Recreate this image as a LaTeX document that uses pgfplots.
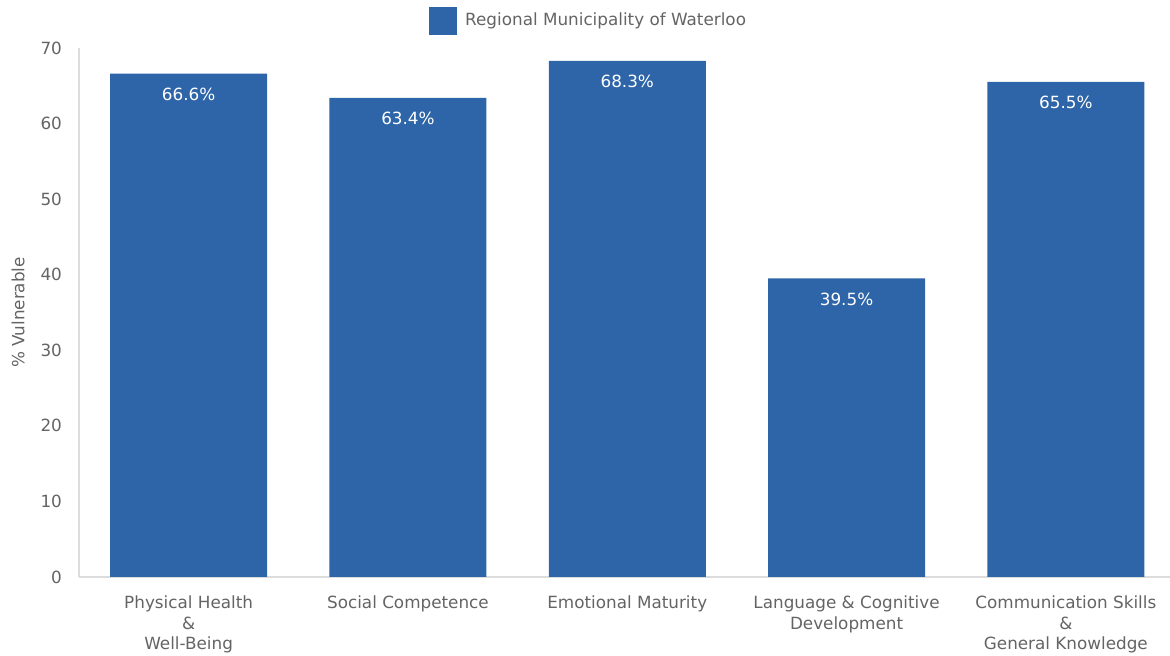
\documentclass[border=0pt]{standalone}
\usepackage{fontspec}
\setmainfont{DejaVu Sans}
\usepackage{pgfplots}
\pgfplotsset{compat=1.18}
\definecolor{barblue}{RGB}{46,101,168}
\definecolor{txtgray}{RGB}{100,100,100}
\definecolor{axgray}{RGB}{220,220,220}
\begin{document}
\begin{tikzpicture}
\begin{axis}[
  scale only axis,
  width=545.5pt, height=264.5pt,
  xmin=-0.5, xmax=4.475,
  ymin=0, ymax=70,
  ytick={0,10,...,70},
  xtick={0,1,2,3,4},
  xticklabels={Physical Health\\\&\\Well-Being, Social Competence, Emotional Maturity, Language \& Cognitive\\Development, Communication Skills\\\&\\General Knowledge},
  axis x line*=bottom, axis y line*=left,
  axis line style={axgray, line width=0.8pt},
  x axis line style={-}, y axis line style={-},
  major tick length=0pt,
  tick style={draw=none},
  font=\fontsize{8.4}{10.25}\selectfont,
  tick label style={text=txtgray, font=\fontsize{8.4}{10.25}\selectfont},
  /pgf/number format/assume math mode=true,
  yticklabel style={xshift=-5pt},
  xticklabel style={align=center, yshift=-6pt, anchor=north},
  ylabel={\% Vulnerable},
  every axis y label/.style={at={(rel axis cs:0,0.5)}, rotate=90, anchor=center, yshift=30.5pt, text=txtgray, font=\fontsize{8.4}{10.25}\selectfont},
  ybar, bar width=78.5pt,
  nodes near coords={\pgfmathprintnumber[fixed,precision=1,fixed zerofill]{\pgfplotspointmeta}\%},
  nodes near coords style={text=white, anchor=north, yshift=-3.5pt, font=\fontsize{8.4}{10.25}\selectfont},
  legend style={at={(0.468,1.051)}, anchor=center, draw=none, fill=none, text=txtgray, font=\fontsize{8.4}{10.25}\selectfont, inner sep=0pt, cells={anchor=west}},
  legend image code/.code={\fill[barblue] (0pt,-7pt) rectangle (14pt,7pt);},
  legend cell align=left,
  clip=false,
]
\addplot[fill=barblue, draw=none] coordinates {(0,66.6) (1,63.4) (2,68.3) (3,39.5) (4,65.5)};
\addlegendentry{\hspace{2pt}Regional Municipality of Waterloo}
\end{axis}
\pgfresetboundingbox
\path (current axis.south west) ++(-39.5pt,-39.5pt) rectangle ++(585pt,328pt);
\end{tikzpicture}
\end{document}
